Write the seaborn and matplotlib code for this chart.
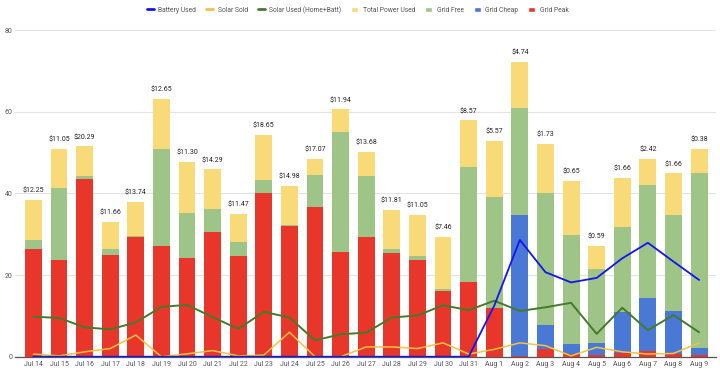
import matplotlib
matplotlib.use("Agg")
import matplotlib.pyplot as plt
import seaborn as sns
import numpy as np
import pandas as pd
from matplotlib.patches import Patch
from matplotlib.lines import Line2D

days = ["Jul 14", "Jul 15", "Jul 16", "Jul 17", "Jul 18", "Jul 19", "Jul 20", "Jul 21", "Jul 22",
        "Jul 23", "Jul 24", "Jul 25", "Jul 26", "Jul 27", "Jul 28", "Jul 29", "Jul 30", "Jul 31",
        "Aug 1", "Aug 2", "Aug 3", "Aug 4", "Aug 5", "Aug 6", "Aug 7", "Aug 8", "Aug 9"]

grid_peak = [26.3, 23.7, 43.5, 25.0, 29.4, 27.1, 24.2, 30.6, 24.7, 40.0, 32.1, 36.6, 25.6, 29.4,
             25.3, 23.7, 16.1, 18.4, 12.0, 0.2, 1.9, 0.65, 0.4, 1.0, 1.4, 0.65, 0.3]
grid_cheap = [0, 0, 0, 0, 0, 0, 0, 0, 0, 0, 0, 0, 0, 0, 0, 0, 0, 0,
              0, 34.5, 5.9, 2.45, 2.9, 9.9, 13.0, 10.55, 1.9]
grid_free = [2.4, 17.7, 0.8, 1.4, 0.2, 23.8, 10.9, 5.6, 3.5, 3.4, 0.1, 7.9, 29.5, 14.9,
             1.1, 1.0, 0.6, 28.1, 27.2, 26.3, 32.2, 26.8, 18.2, 20.9, 27.6, 23.5, 42.7]
solar_used = [9.8, 9.5, 7.2, 6.7, 8.4, 12.2, 12.7, 9.7, 6.8, 11.0, 9.6, 4.0, 5.5, 5.9,
              9.6, 10.1, 12.6, 11.4, 13.7, 11.2, 12.1, 13.2, 5.6, 12.0, 6.5, 10.2, 6.0]
solar_sold = [0.65, 0.2, 1.2, 2.0, 5.3, 0.0, 0.7, 1.5, 0.2, 0.4, 6.0, 0.0, 0.0, 2.4,
              2.4, 2.0, 3.4, 0.65, 1.8, 3.4, 2.7, 0.2, 2.3, 1.2, 0.65, 0.8, 3.4]
battery_used = [0, 0, 0, 0, 0, 0, 0, 0, 0, 0, 0, 0, 0, 0, 0, 0, 0, 0,
                12.5, 28.6, 20.7, 18.2, 19.3, 24.1, 27.9, 23.3, 18.8]
cost = ["$12.25", "$11.05", "$20.29", "$11.66", "$13.74", "$12.65", "$11.30", "$14.29", "$11.47",
        "$18.65", "$14.98", "$17.07", "$11.94", "$13.68", "$11.81", "$11.05", "$7.46", "$8.57",
        "$5.57", "$4.74", "$1.73", "$0.65", "$0.59", "$1.66", "$2.42", "$1.66", "$0.38"]

c_peak = "#e8372a"
c_cheap = "#4a78d5"
c_free = "#9fc487"
c_total = "#f9da78"
c_batt = "#1414f0"
c_sold = "#f4c245"
c_used = "#447a2c"

sns.set_style("white")
plt.rcParams["font.family"] = ["Roboto", "DejaVu Sans"]

df = pd.DataFrame({"day": days, "peak": grid_peak, "cheap": grid_cheap,
                   "free": grid_free, "solar": solar_used})
df["lvl1"] = df["peak"]
df["lvl2"] = df["lvl1"] + df["cheap"]
df["lvl3"] = df["lvl2"] + df["free"]
df["lvl4"] = df["lvl3"] + df["solar"]
x = np.arange(len(days))

fig = plt.figure(figsize=(7.2, 3.71), dpi=100)
ax = fig.add_axes([0.0208, 0.0385, 0.9736, 0.8805])

# stacked bars drawn as overlapping cumulative totals
for col, color in [("lvl4", c_total), ("lvl3", c_free), ("lvl2", c_cheap), ("lvl1", c_peak)]:
    sns.barplot(data=df, x="day", y=col, color=color, width=0.66, saturation=1,
                edgecolor="none", linewidth=0, ax=ax, zorder=2)

sns.lineplot(x=x, y=solar_sold, color=c_sold, linewidth=1.1, ax=ax, zorder=3)
sns.lineplot(x=x, y=solar_used, color=c_used, linewidth=1.4, ax=ax, zorder=3)
sns.lineplot(x=x, y=battery_used, color=c_batt, linewidth=1.3, ax=ax, zorder=4)

for i, label in enumerate(cost):
    ax.text(i, df["lvl4"][i] + 1.3, label, ha="center", va="bottom",
            fontsize=5.0, color="#222222")

ax.set_xlim(-0.72, 26.66)
ax.set_ylim(0, 80)
ax.set_yticks([0, 20, 40, 60, 80])
ax.yaxis.grid(True, color="#e3e3e3", linewidth=0.8, zorder=0)
ax.set_axisbelow(True)
for s in ["top", "right", "left"]:
    ax.spines[s].set_visible(False)
ax.spines["bottom"].set_color("#555555")
ax.spines["bottom"].set_linewidth(0.9)
ax.spines["bottom"].set_zorder(1)
ax.tick_params(axis="both", length=0, labelsize=5.0, labelcolor="#555555")
ax.tick_params(axis="x", pad=3)
ax.tick_params(axis="y", pad=2)
ax.set_xlabel("")
ax.set_ylabel("")

handles = [
    Line2D([0], [0], color=c_batt, linewidth=2),
    Line2D([0], [0], color=c_sold, linewidth=2),
    Line2D([0], [0], color=c_used, linewidth=2),
    Patch(facecolor=c_total),
    Patch(facecolor=c_free),
    Patch(facecolor=c_cheap),
    Patch(facecolor=c_peak),
]
names = ["Battery Used", "Solar Sold", "Solar Used (Home+Batt)", "Total Power Used",
         "Grid Free", "Grid Cheap", "Grid Peak"]
fig.legend(handles, names, loc="center", bbox_to_anchor=(0.497, 0.973), ncol=7,
           frameon=False, fontsize=4.9, labelcolor="#555555", handlelength=1.0,
           handleheight=0.9, handletextpad=0.7, columnspacing=1.45, borderpad=0)

fig.savefig("out.png", dpi=100)
